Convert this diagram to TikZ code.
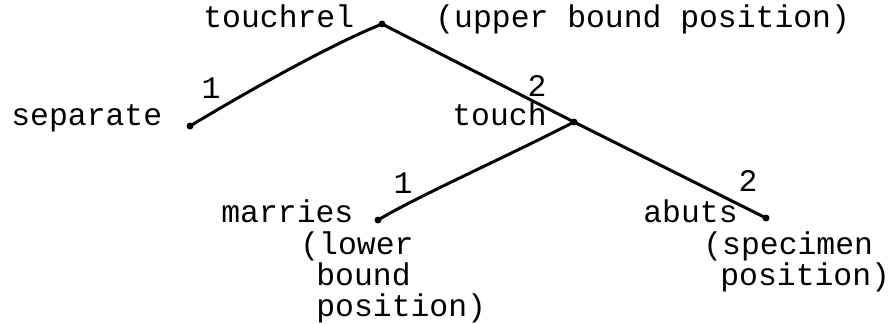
\documentclass[tikz,border=0pt]{standalone}
\usepackage{fontspec}
\setmainfont{Liberation Mono}
\begin{document}
\begin{tikzpicture}[x=0.5pt,y=-0.5pt,
  txt/.style={inner sep=0pt,anchor=base west,font=\fontsize{15.7}{18}\selectfont},
  num/.style={inner sep=0pt,anchor=center,font=\fontsize{15.7}{18}\selectfont},
  edge/.style={line width=1.5pt,line cap=round},
  pt/.style={circle,fill=black,inner sep=0pt,minimum size=3.5pt}]
\useasboundingbox (0,0) rectangle (890,323);
% tree points
\node[pt] (root) at (382,24) {};
\node[pt] (sep) at (190,126) {};
\node[pt] (tch) at (574,122) {};
\node[pt] (mar) at (378,220) {};
\node[pt] (abu) at (766,218) {};
% edges
\draw[edge] (root.center) .. controls (330,45) and (250,90) .. (sep.center);
\draw[edge] (root.center) -- (tch.center);
\draw[edge] (tch.center) -- (abu.center);
\draw[edge] (tch.center) .. controls (500,160) and (420,195) .. (mar.center);
% labels
\node[txt] (t1) at (203,27) {touchrel};
\node[txt] (t2) at (435,27) {(upper bound position)};
\node[txt] (t3) at (11,125) {separate};
\node[txt] (t4) at (452,125) {touch};
\node[txt] (t5) at (221,222) {marries};
\node[txt] (t6) at (300,254) {(lower};
\node[txt] (t7) at (316,285) {bound};
\node[txt] (t8) at (316,316) {position)};
\node[txt] (t9) at (643,222) {abuts};
\node[txt] (t10) at (703,254) {(specimen};
\node[txt] (t11) at (720,285) {position)};
\node[num] (n1) at (211,88) {1};
\node[num] (n2) at (537,86) {2};
\node[num] (n3) at (403,183) {1};
\node[num] (n4) at (748,181) {2};
\end{tikzpicture}
\end{document}
